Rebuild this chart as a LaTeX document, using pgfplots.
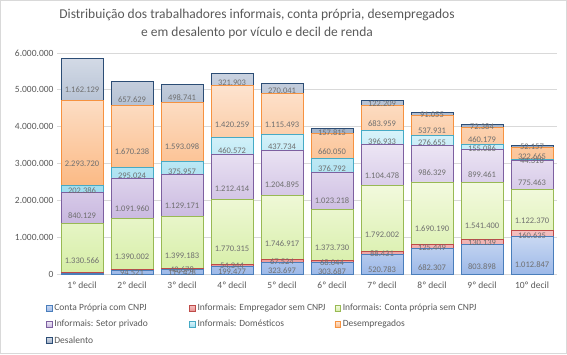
\documentclass[border=0pt]{standalone}
\usepackage{pgfplots}
\pgfplotsset{compat=1.18}
\usepackage{pgfplotstable}
\usepackage{fontspec}
\setmainfont{Carlito}
\definecolor{txt}{HTML}{595959}
\definecolor{lab}{HTML}{6F6F6F}
\definecolor{grd}{HTML}{D9D9D9}
\definecolor{cnpjT}{HTML}{C9D8F2}\definecolor{cnpjB}{HTML}{9DB9E8}\definecolor{cnpjD}{HTML}{4A7EBB}
\definecolor{empT}{HTML}{F4C0C0}\definecolor{empB}{HTML}{E89090}\definecolor{empD}{HTML}{BE4B48}
\definecolor{cpT}{HTML}{F3FADF}\definecolor{cpB}{HTML}{D6EEA6}\definecolor{cpD}{HTML}{98B954}
\definecolor{prT}{HTML}{ECE5F4}\definecolor{prB}{HTML}{C8B7DF}\definecolor{prD}{HTML}{7D60A0}
\definecolor{doT}{HTML}{D8F3FA}\definecolor{doB}{HTML}{9EDCEE}\definecolor{doD}{HTML}{46AAC5}
\definecolor{deT}{HTML}{FDE3CF}\definecolor{deB}{HTML}{FBBA85}\definecolor{deD}{HTML}{F69240}
\definecolor{alT}{HTML}{D3DAE6}\definecolor{alB}{HTML}{9AABC3}\definecolor{alD}{HTML}{2C4D75}

\pgfplotstableread{
x y lab
0 10000 {}
1 94521 94.521
2 119428 119.428
3 199477 199.477
4 323697 323.697
5 303687 303.687
6 520783 520.783
7 682307 682.307
8 803898 803.898
9 1012847 1.012.847
}\tCnpj
\pgfplotstableread{
x y lab
0 25000 {}
1 30000 {}
2 42678 42.678
3 54344 54.344
4 67524 67.524
5 68044 68.044
6 88431 88.431
7 125449 125.449
8 130139 130.139
9 160635 160.635
}\tEmp
\pgfplotstableread{
x y lab
0 1330566 1.330.566
1 1390002 1.390.002
2 1399183 1.399.183
3 1770315 1.770.315
4 1746917 1.746.917
5 1373730 1.373.730
6 1792002 1.792.002
7 1690190 1.690.190
8 1541400 1.541.400
9 1122370 1.122.370
}\tCp
\pgfplotstableread{
x y lab
0 840129 840.129
1 1091960 1.091.960
2 1129171 1.129.171
3 1212414 1.212.414
4 1204895 1.204.895
5 1023218 1.023.218
6 1104478 1.104.478
7 986329 986.329
8 899461 899.461
9 775463 775.463
}\tPr
\pgfplotstableread{
x y lab
0 202386 202.386
1 295024 295.024
2 375957 375.957
3 460572 460.572
4 437734 437.734
5 376792 376.792
6 396933 396.933
7 276655 276.655
8 155086 155.086
9 44318 44.318
}\tDo
\pgfplotstableread{
x y lab
0 2293720 2.293.720
1 1670238 1.670.238
2 1593098 1.593.098
3 1420259 1.420.259
4 1115493 1.115.493
5 660050 660.050
6 683959 683.959
7 537931 537.931
8 460179 460.179
9 322665 322.665
}\tDe
\pgfplotstableread{
x y lab
0 1162129 1.162.129
1 657629 657.629
2 498741 498.741
3 321903 321.903
4 270041 270.041
5 157815 157.815
6 122209 122.209
7 91055 91.055
8 72384 72.384
9 52157 52.157
}\tAl

\begin{document}
\begin{tikzpicture}
\draw[grd, line width=0.8pt] (0.4pt,0.4pt) rectangle (566.6pt,353.6pt);
\node[text=txt, align=center, font=\fontsize{13.5}{18}\selectfont, anchor=center] at (257pt,330pt)
  {Distribuição dos trabalhadores informais, conta própria, desempregados\\e em desalento por vículo e decil de renda};
\begin{axis}[
  at={(57pt,80pt)}, anchor=south west,
  scale only axis, width=500pt, height=221pt,
  ybar stacked, bar width=42pt,
  xmin=-0.5, xmax=9.5, ymin=0, ymax=6000000,
  xtick={0,...,9},
  xticklabels={1º decil,2º decil,3º decil,4º decil,5º decil,6º decil,7º decil,8º decil,9º decil,10º decil},
  ytick={0,1000000,2000000,3000000,4000000,5000000,6000000},
  scaled y ticks=false,
  yticklabel style={/pgf/number format/.cd, fixed, 1000 sep={.}, assume math mode=true},
  ticklabel style={font=\fontsize{9.5}{11}\selectfont, text=txt},
  xticklabel style={yshift=-4pt},
  major tick length=0pt,
  ymajorgrids, grid style={draw=grd, line width=0.8pt},
  axis x line*=bottom, axis y line*=left,
  x axis line style={draw=grd, line width=0.8pt},
  y axis line style={draw=none},
  every axis plot/.append style={line width=0.9pt},
  point meta=explicit symbolic,
  nodes near coords={\pgfplotspointmeta},
  visualization depends on={rawy \as \myy},
  every node near coord/.append style={font=\fontsize{8.5}{9}\selectfont, text=lab, anchor=center, inner sep=0pt,
     shift={(axis direction cs:0,-0.25*\myy)}},
  legend columns=3,
  legend style={at={(-0.028,-0.118)}, anchor=north west, draw=none, fill=none,
     font=\fontsize{9.5}{11}\selectfont, text=txt, row sep=4pt},
  legend cell align=left,
  legend image code/.code={\draw[#1, line width=0.6pt] (0pt,-2.8pt) rectangle (5.6pt,2.8pt);},
]
\addplot[draw=cnpjD, top color=cnpjT, bottom color=cnpjB] table[x=x,y=y,meta=lab]{\tCnpj};
\addlegendentry{\makebox[133pt][l]{Conta Própria com CNPJ}}
\addplot[draw=empD, top color=empT, bottom color=empB] table[x=x,y=y,meta=lab]{\tEmp};
\addlegendentry{\makebox[135pt][l]{Informais: Empregador sem CNPJ}}
\addplot[draw=cpD, top color=cpT, bottom color=cpB] table[x=x,y=y,meta=lab]{\tCp};
\addlegendentry{Informais: Conta própria sem CNPJ}
\addplot[draw=prD, top color=prT, bottom color=prB] table[x=x,y=y,meta=lab]{\tPr};
\addlegendentry{Informais: Setor privado}
\addplot[draw=doD, top color=doT, bottom color=doB] table[x=x,y=y,meta=lab]{\tDo};
\addlegendentry{Informais: Domésticos}
\addplot[draw=deD, top color=deT, bottom color=deB] table[x=x,y=y,meta=lab]{\tDe};
\addlegendentry{Desempregados}
\addplot[draw=alD, top color=alT, bottom color=alB] table[x=x,y=y,meta=lab]{\tAl};
\addlegendentry{Desalento}
\end{axis}
\end{tikzpicture}
\end{document}
